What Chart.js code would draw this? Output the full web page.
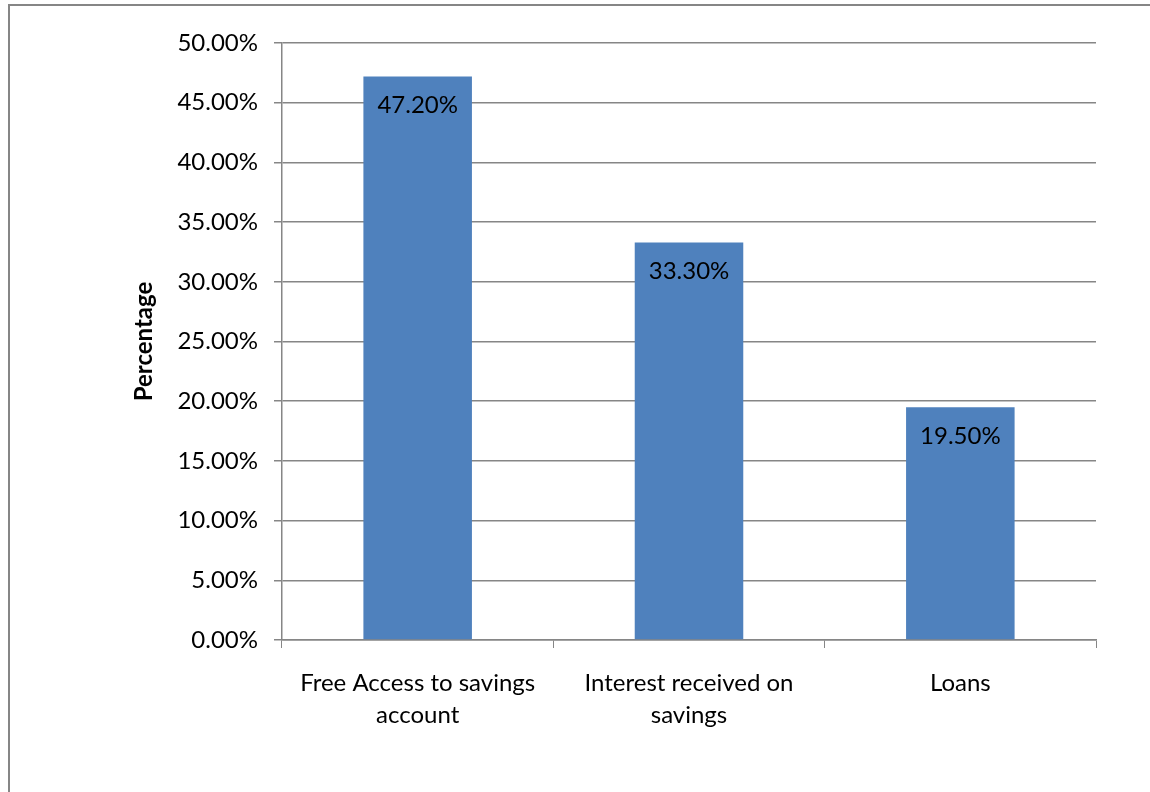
<!DOCTYPE html>
<html>
<head>
<meta charset="utf-8">
<script src="https://cdn.jsdelivr.net/npm/chart.js@4"></script>
<style>
  html, body { margin: 0; padding: 0; background: #fff; }
  #wrap { width: 1150px; height: 792px; }
</style>
</head>
<body>
<div id="wrap"><canvas id="benefitsChart"></canvas></div>
<script>
// Data
var categories = [
  ['Free Access to savings', 'account'],
  ['Interest received on', 'savings'],
  'Loans'
];
var percentages = [47.2, 33.3, 19.5];
var yMax = 50;
var yStep = 5;

var textFont = { family: 'Lato, "Open Sans", sans-serif', size: 24 };
var lineGray = '#868686';

// Outer frame around the chart
var framePlugin = {
  id: 'frame',
  beforeDraw: function(chart) {
    var ctx = chart.ctx;
    ctx.save();
    ctx.strokeStyle = lineGray;
    ctx.lineWidth = 2;
    ctx.strokeRect(9, 5, chart.width + 20, chart.height + 20);
    ctx.restore();
  }
};

// Value labels just inside the top of each bar
var barLabels = {
  id: 'barLabels',
  afterDatasetsDraw: function(chart) {
    var ctx = chart.ctx;
    var meta = chart.getDatasetMeta(0);
    ctx.save();
    ctx.fillStyle = '#000';
    ctx.font = textFont.size + 'px ' + textFont.family;
    ctx.textAlign = 'center';
    ctx.textBaseline = 'middle';
    meta.data.forEach(function(bar, i) {
      ctx.fillText(percentages[i].toFixed(2) + '%', bar.x, bar.y + 29);
    });
    ctx.restore();
  }
};

var ctx = document.getElementById('benefitsChart').getContext('2d');
new Chart(ctx, {
  type: 'bar',
  data: {
    labels: categories,
    datasets: [{
      data: percentages,
      backgroundColor: '#4F81BD',
      borderWidth: 0,
      barPercentage: 0.4,
      categoryPercentage: 1.0
    }]
  },
  options: {
    responsive: true,
    maintainAspectRatio: false,
    animation: false,
    layout: { padding: { left: 127, right: 54, top: 43, bottom: 0 } },
    plugins: {
      legend: { display: false },
      tooltip: { enabled: false }
    },
    scales: {
      x: {
        grid: {
          offset: true,
          drawOnChartArea: false,
          color: lineGray,
          tickLength: 8
        },
        border: { color: lineGray, width: 1.5 },
        ticks: {
          color: '#000',
          font: { family: textFont.family, size: textFont.size, lineHeight: 1.3 },
          padding: 20,
          maxRotation: 0
        },
        afterFit: function(scale) { scale.height = 152; }
      },
      y: {
        min: 0,
        max: yMax,
        ticks: {
          stepSize: yStep,
          color: '#000',
          font: textFont,
          padding: 16,
          callback: function(value) { return value.toFixed(2) + '%'; }
        },
        grid: { color: lineGray, lineWidth: 1.5, tickLength: 8 },
        border: { color: lineGray, width: 1.5 },
        title: {
          display: true,
          text: 'Percentage',
          color: '#000',
          font: { family: textFont.family, size: 24, weight: 'bold' },
          padding: { top: 3, bottom: 0 }
        },
        afterFit: function(scale) { scale.width = 155; }
      }
    }
  },
  plugins: [framePlugin, barLabels]
});
</script>
</body>
</html>
